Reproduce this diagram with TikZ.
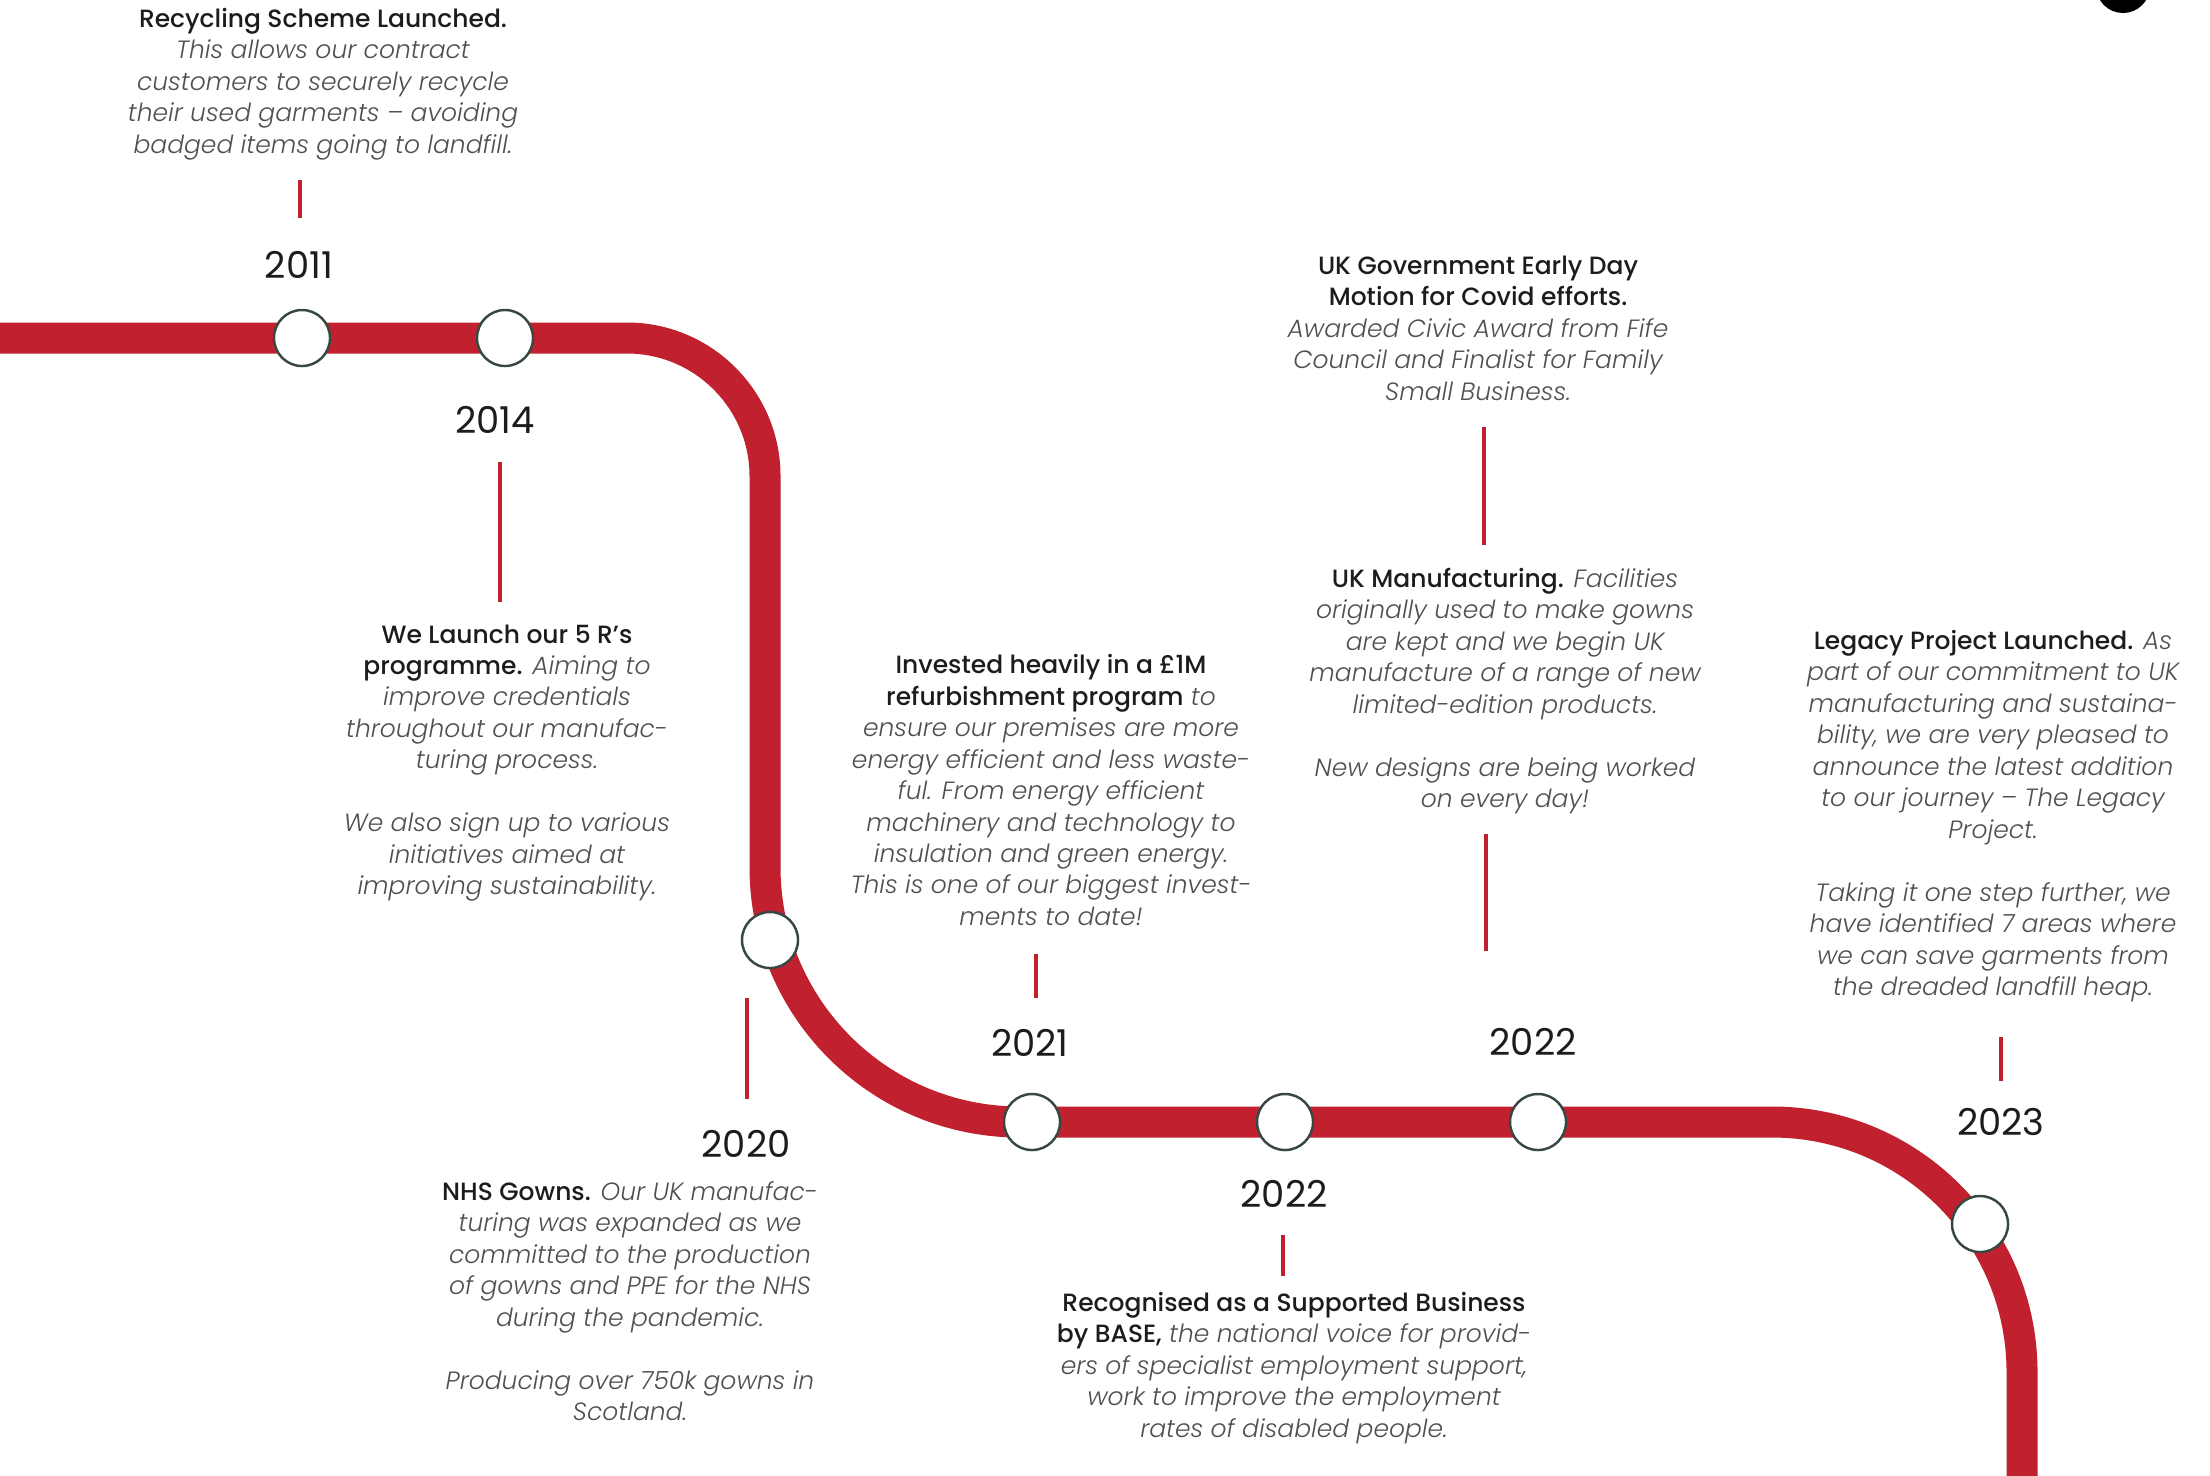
\documentclass[tikz,border=0pt]{standalone}
\usepackage{fontspec}
\setmainfont{Poppins}[BoldFont={Poppins Medium},ItalicFont={Poppins Light Italic},BoldItalicFont={Poppins Medium Italic}]
\usetikzlibrary{calc}
\definecolor{trk}{RGB}{193,33,47}
\definecolor{ringc}{RGB}{55,72,66}
\definecolor{boldc}{RGB}{28,28,28}
\definecolor{itc}{RGB}{80,80,80}
\newcommand\hd[1]{{\upshape\bfseries\color{boldc}#1}}
\pgfdeclarelayer{bg}
\pgfsetlayers{bg,main}
\begin{document}
\begin{tikzpicture}[x=0.01cm,y=-0.01cm,
  track/.style={draw=trk,line width=0.31cm},
  stn/.style={circle,fill=white,draw=ringc,line width=0.7pt,minimum size=0.56cm,inner sep=0pt},
  yr/.style={font=\fontsize{10.5}{12}\selectfont,text=boldc,inner sep=0pt},
  blk/.style={align=center,font=\fontsize{7.1}{8.95}\selectfont\itshape,text=itc,inner sep=0pt},
  tick/.style={draw=trk,line width=0.045cm}]
\useasboundingbox (0,0) rectangle (2210,1475);

% stations
\node[stn] (s11) at (302,338) {};
\node[stn] (s14) at (505,338) {};
\node[stn] (s20) at (770,940) {};
\node[stn] (s21) at (1032,1122) {};
\node[stn] (s22a) at (1285,1122) {};
\node[stn] (s22b) at (1538,1122) {};
\node[stn] (s23) at (1980,1224) {};

% track
\coordinate (t0) at (-20,338);
\coordinate (k1) at (627,338);
\coordinate (k2) at (765,476);
\coordinate (k3) at (765,867);
\coordinate (k4) at (1020,1122);
\coordinate (k5) at (1772,1122);
\coordinate (k6) at (2022,1372);
\coordinate (t1) at (2022,1500);
\begin{pgfonlayer}{bg}
\fill[white] (0,0) rectangle (2210,1475);
\draw[track] (t0) -- (s11.center) -- (s14.center) -- (k1)
  .. controls (703,338) and (765,400) .. (k2) -- (k3)
  .. controls (765,1008) and (879,1122) .. (k4)
  -- (s21.center) -- (s22a.center) -- (s22b.center) -- (k5)
  .. controls (1910,1122) and (2022,1234) .. (k6) -- (t1);
\end{pgfonlayer}

% years
\node[yr] (y11) at (299,265) {2011};
\node[yr] (y14) at (495,420) {2014};
\node[yr] (y20) at (746,1144) {2020};
\node[yr] (y21) at (1030,1043) {2021};
\node[yr] (y22a) at (1284,1194) {2022};
\node[yr] (y22b) at (1533,1042) {2022};
\node[yr] (y23) at (2001,1122) {2023};

% text blocks
\node[blk] (recyc) at (323,84) {\hd{Recycling Scheme Launched.}\\
This allows our contract\\
customers to securely recycle\\
their used garments – avoiding\\
badged items going to landfill.};

\node[blk] (fiver) at (507,763) {\hd{We Launch our 5 R’s}\\
\hd{programme.} Aiming to\\
improve credentials\\
throughout our manufac-\\
turing process.\\[8.95pt]
We also sign up to various\\
initiatives aimed at\\
improving sustainability.};

\node[blk] (nhs) at (630,1301) {\hd{NHS Gowns.} Our UK manufac-\\
turing was expanded as we\\
committed to the production\\
of gowns and PPE for the NHS\\
during the pandemic.\\[8.95pt]
Producing over 750k gowns in\\
Scotland.};

\node[blk] (refurb) at (1051,790) {\hd{Invested heavily in a £1M}\\
\hd{refurbishment program} to\\
ensure our premises are more\\
energy efficient and less waste-\\
ful. From energy efficient\\
machinery and technology to\\
insulation and green energy.\\
This is one of our biggest invest-\\
ments to date!};

\node[blk] (base) at (1294,1368) {\hd{Recognised as a Supported Business}\\
\hd{by BASE,} the national voice for provid-\\
ers of specialist employment support,\\
work to improve the employment\\
rates of disabled people.};

\node[blk] (gov) at (1478,328) {\hd{UK Government Early Day}\\
\hd{Motion for Covid efforts.}\\
Awarded Civic Award from Fife\\
Council and Finalist for Family\\
Small Business.};

\node[blk] (ukman) at (1505,691) {\hd{UK Manufacturing.} Facilities\\
originally used to make gowns\\
are kept and we begin UK\\
manufacture of a range of new\\
limited-edition products.\\[8.95pt]
New designs are being worked\\
on every day!};

\node[blk] (legacy) at (1993,816) {\hd{Legacy Project Launched.} As\\
part of our commitment to UK\\
manufacturing and sustaina-\\
bility, we are very pleased to\\
announce the latest addition\\
to our journey – The Legacy\\
Project.\\[8.95pt]
Taking it one step further, we\\
have identified 7 areas where\\
we can save garments from\\
the dreaded landfill heap.};

% ticks
\coordinate (a11) at (300,180); \coordinate (b11) at (300,218);
\coordinate (a14) at (500,462); \coordinate (b14) at (500,602);
\coordinate (a20) at (747,998); \coordinate (b20) at (747,1099);
\coordinate (a21) at (1036,954); \coordinate (b21) at (1036,998);
\coordinate (a22) at (1283,1235); \coordinate (b22) at (1283,1276);
\coordinate (ag) at (1484,427); \coordinate (bg) at (1484,545);
\coordinate (am) at (1486,834); \coordinate (bm) at (1486,951);
\coordinate (a23) at (2001,1037); \coordinate (b23) at (2001,1081);
\foreach \p in {11,14,20,21,22,g,m,23}{\draw[tick] (a\p) -- (b\p);}

% cut-off logo at top right
\fill[black] (2123,-14) circle (0.27cm);
\end{tikzpicture}
\end{document}
